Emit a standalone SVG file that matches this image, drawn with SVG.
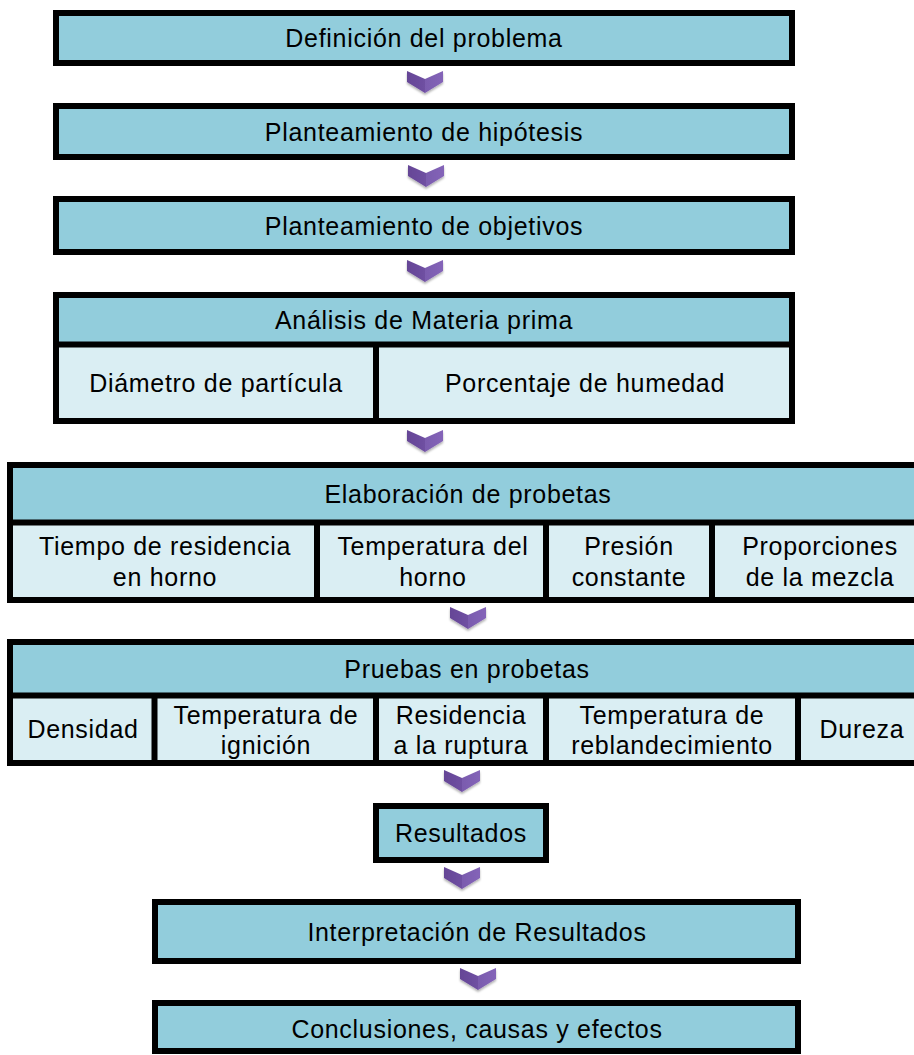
<svg xmlns="http://www.w3.org/2000/svg" width="914" height="1055" viewBox="0 0 914 1055">
<defs>
<style>
.hd{fill:#92cddc}
.sb{fill:#daeef3}
.bx{fill:none;stroke:#000;stroke-width:6}
.ln{stroke:#000;stroke-width:6}
.t{font-family:"Liberation Sans",Arial,sans-serif;font-size:25px;letter-spacing:0.7px;fill:#000;text-anchor:middle}
.chev{fill:url(#cg);filter:url(#sh)}
</style>
<linearGradient id="cg" x1="0" y1="0" x2="1" y2="0">
<stop offset="0" stop-color="#654596"/>
<stop offset="0.5" stop-color="#6f50a2"/>
<stop offset="0.5" stop-color="#7a5bae"/>
<stop offset="1" stop-color="#8464b8"/>
</linearGradient>
<filter id="sh" x="-30%" y="-30%" width="160%" height="170%">
<feDropShadow dx="0" dy="2" stdDeviation="1.2" flood-color="#000" flood-opacity="0.3"/>
</filter>
<path id="cv" d="M-18,0 L0,8 L18,0 L18,11 L0,22 L-18,11 Z"/>
</defs>
<rect width="914" height="1055" fill="#fff"/>

<g id="n1">
<rect class="hd" x="56" y="13" width="736" height="50"/>
<rect class="bx" x="56" y="13" width="736" height="50"/>
<text class="t" x="424" y="46.5">Definición del problema</text>
</g>

<g id="n2">
<rect class="hd" x="56" y="106" width="736" height="51"/>
<rect class="bx" x="56" y="106" width="736" height="51"/>
<text class="t" x="424" y="140.5">Planteamiento de hipótesis</text>
</g>

<g id="n3">
<rect class="hd" x="56" y="199" width="736" height="53"/>
<rect class="bx" x="56" y="199" width="736" height="53"/>
<text class="t" x="424" y="234.5">Planteamiento de objetivos</text>
</g>

<g id="n4">
<rect class="hd" x="56" y="295" width="736" height="50"/>
<rect class="sb" x="56" y="345" width="736" height="76"/>
<rect class="bx" x="56" y="295" width="736" height="126"/>
<line class="ln" x1="56" y1="344.5" x2="792" y2="344.5"/>
<line class="ln" x1="376" y1="344.5" x2="376" y2="421"/>
<text class="t" x="424" y="329">Análisis de Materia prima</text>
<text class="t" x="216" y="391.5">Diámetro de partícula</text>
<text class="t" x="585" y="391.5">Porcentaje de humedad</text>
</g>

<g id="n5">
<rect class="hd" x="10" y="465" width="916" height="58"/>
<rect class="sb" x="10" y="523" width="916" height="77"/>
<rect class="bx" x="10" y="465" width="916" height="135"/>
<line class="ln" x1="10" y1="522.5" x2="926" y2="522.5"/>
<line class="ln" x1="317" y1="522.5" x2="317" y2="600"/>
<line class="ln" x1="546" y1="522.5" x2="546" y2="600"/>
<line class="ln" x1="712" y1="522.5" x2="712" y2="600"/>
<text class="t" x="468" y="502.5">Elaboración de probetas</text>
<text class="t" x="165" y="554.5">Tiempo de residencia</text>
<text class="t" x="165" y="585.5">en horno</text>
<text class="t" x="433" y="554.5">Temperatura del</text>
<text class="t" x="433" y="585.5">horno</text>
<text class="t" x="629" y="554.5">Presión</text>
<text class="t" x="629" y="585.5">constante</text>
<text class="t" x="820" y="554.5">Proporciones</text>
<text class="t" x="820" y="585.5">de la mezcla</text>
</g>

<g id="n6">
<rect class="hd" x="10" y="642" width="916" height="54"/>
<rect class="sb" x="10" y="696" width="916" height="67"/>
<rect class="bx" x="10" y="642" width="916" height="121"/>
<line class="ln" x1="10" y1="695.5" x2="926" y2="695.5"/>
<line class="ln" x1="154.5" y1="695.5" x2="154.5" y2="763"/>
<line class="ln" x1="376" y1="695.5" x2="376" y2="763"/>
<line class="ln" x1="546" y1="695.5" x2="546" y2="763"/>
<line class="ln" x1="798" y1="695.5" x2="798" y2="763"/>
<text class="t" x="467" y="677.5">Pruebas en probetas</text>
<text class="t" x="83" y="737.5">Densidad</text>
<text class="t" x="266" y="723.5">Temperatura de</text>
<text class="t" x="266" y="753.5">ignición</text>
<text class="t" x="461" y="723.5">Residencia</text>
<text class="t" x="461" y="753.5">a la ruptura</text>
<text class="t" x="672" y="723.5">Temperatura de</text>
<text class="t" x="672" y="753.5">reblandecimiento</text>
<text class="t" x="862" y="737.5">Dureza</text>
</g>

<g id="n7">
<rect class="hd" x="376" y="806" width="170" height="54"/>
<rect class="bx" x="376" y="806" width="170" height="54"/>
<text class="t" x="461" y="841.5">Resultados</text>
</g>

<g id="n8">
<rect class="hd" x="155" y="902" width="643" height="59"/>
<rect class="bx" x="155" y="902" width="643" height="59"/>
<text class="t" x="477" y="940.5">Interpretación de Resultados</text>
</g>

<g id="n9">
<rect class="hd" x="155" y="1003" width="643" height="48"/>
<rect class="bx" x="155" y="1003" width="643" height="48"/>
<text class="t" x="477" y="1037.5">Conclusiones, causas y efectos</text>
</g>

<g id="connectors">
<use href="#cv" class="chev" x="425" y="71"/>
<use href="#cv" class="chev" x="426" y="165"/>
<use href="#cv" class="chev" x="425" y="260"/>
<use href="#cv" class="chev" x="425" y="430"/>
<use href="#cv" class="chev" x="468" y="607"/>
<use href="#cv" class="chev" x="462" y="770"/>
<use href="#cv" class="chev" x="462" y="867"/>
<use href="#cv" class="chev" x="478" y="968"/>
</g>
</svg>
